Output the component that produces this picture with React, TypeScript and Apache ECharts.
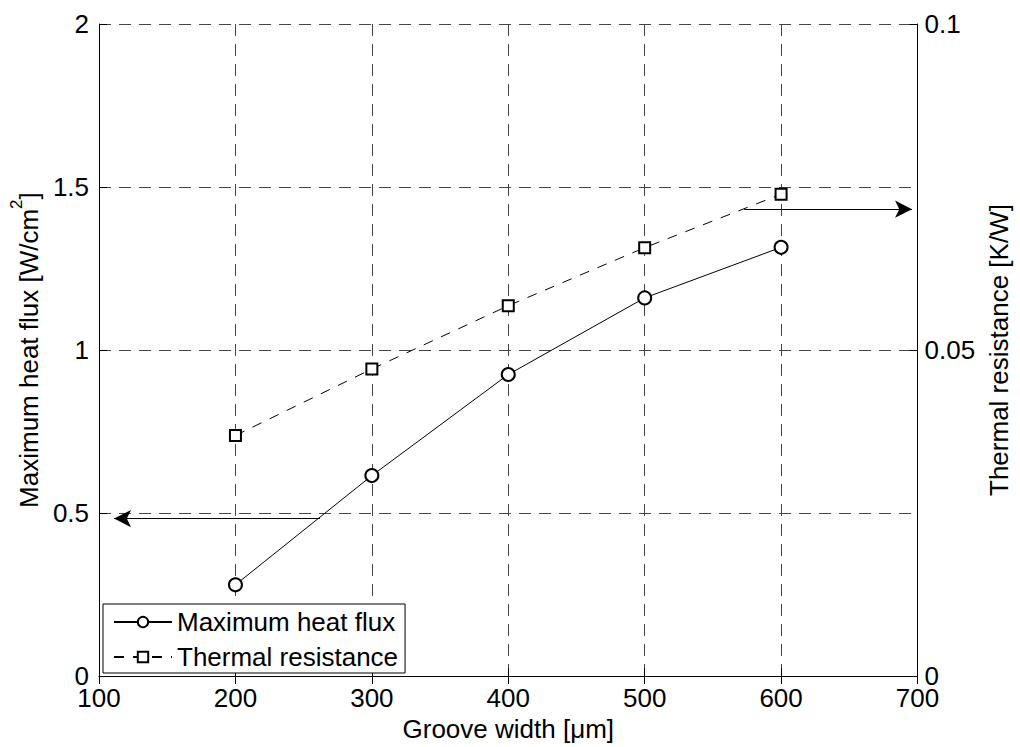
import React, { useEffect, useRef } from "react";
import * as echarts from "echarts";

const grooveWidth = [200, 300, 400, 500, 600];
const maxHeatFlux = [0.28, 0.615, 0.925, 1.16, 1.315];
const thermalResistance = [0.0369, 0.0471, 0.0568, 0.0657, 0.0739];

const leftArrow = [[262, 0.483], [111, 0.483]];
const rightArrow = [[573, 1.432], [696, 1.432]];

const FONT = "'Liberation Sans', Arial, Helvetica, sans-serif";
const FS = 26;

export default function App() {
  const ref = useRef<HTMLDivElement>(null);
  useEffect(() => {
    if (!ref.current) return;
    const chart = echarts.init(ref.current, null, { renderer: "svg" });
    const gridDash = { type: [12, 8] as any, color: "#444", width: 1 };
    chart.setOption({
      animation: false,
      backgroundColor: "#fff",
      textStyle: { fontFamily: FONT, color: "#000" },
      grid: { left: 94, right: 92, top: 24, bottom: 65, containLabel: false },
      legend: {
        orient: "vertical",
        left: 103,
        top: 604,
        padding: [5, 7, 3, 10],
        itemWidth: 58,
        itemHeight: 13,
        itemGap: 9,
        borderColor: "#000",
        borderWidth: 1,
        borderRadius: 0,
        backgroundColor: "#fff",
        textStyle: { fontSize: FS, fontFamily: FONT, color: "#000", lineHeight: 26 },
        data: ["Maximum heat flux", "Thermal resistance"],
      },
      xAxis: [
        {
          type: "value",
          min: 100,
          max: 700,
          interval: 100,
          name: "Groove width [μm]",
          nameLocation: "middle",
          nameGap: 34,
          nameTextStyle: { fontSize: FS, fontFamily: FONT, color: "#000" },
          axisLine: { lineStyle: { color: "#000", width: 1 } },
          axisTick: { inside: true, length: 8, lineStyle: { color: "#000" } },
          axisLabel: { fontSize: FS, fontFamily: FONT, color: "#000", margin: 12, lineHeight: 20 },
          splitLine: { show: true, lineStyle: gridDash },
        },
        {
          type: "value",
          position: "top",
          min: 100,
          max: 700,
          interval: 100,
          axisLine: { show: true, lineStyle: { color: "#000", width: 1 } },
          axisTick: { inside: true, length: 8, lineStyle: { color: "#000" } },
          axisLabel: { show: false },
          splitLine: { show: false },
        },
      ],
      yAxis: [
        {
          type: "value",
          min: 0,
          max: 2,
          interval: 0.5,
          name: "{b|Maximum heat flux [W/cm}{sup|2}{b|]}",
          nameLocation: "middle",
          nameGap: 50,
          nameTextStyle: {
            fontSize: FS,
            fontFamily: FONT,
            color: "#000",
            rich: {
              b: { fontSize: FS, fontFamily: FONT, color: "#000", lineHeight: 34, verticalAlign: "bottom" },
              sup: { fontSize: 17, fontFamily: FONT, color: "#000", lineHeight: 34, verticalAlign: "top" },
            },
          },
          axisLine: { show: true, lineStyle: { color: "#000", width: 1 } },
          axisTick: { show: true, inside: true, length: 8, lineStyle: { color: "#000" } },
          axisLabel: { fontSize: FS, fontFamily: FONT, color: "#000", margin: 10, lineHeight: 20 },
          splitLine: { show: true, lineStyle: gridDash },
        },
        {
          type: "value",
          min: 0,
          max: 0.1,
          interval: 0.05,
          position: "right",
          name: "Thermal resistance [K/W]",
          nameLocation: "middle",
          nameGap: 57,
          nameRotate: 90,
          nameTextStyle: { fontSize: FS, fontFamily: FONT, color: "#000" },
          axisLine: { show: true, lineStyle: { color: "#000", width: 1 } },
          axisTick: { show: true, inside: true, length: 8, lineStyle: { color: "#000" } },
          axisLabel: { fontSize: FS, fontFamily: FONT, color: "#000", margin: 7, lineHeight: 20 },
          splitLine: { show: false },
        },
      ],
      series: [
        {
          name: "Maximum heat flux",
          type: "line",
          xAxisIndex: 0,
          yAxisIndex: 0,
          data: grooveWidth.map((x, i) => [x, maxHeatFlux[i]]),
          symbol: "emptyCircle",
          symbolSize: 13,
          lineStyle: { color: "#000", width: 1, type: "solid" },
          itemStyle: { color: "#000", borderColor: "#000", borderWidth: 1 },
          markLine: {
            silent: true,
            symbol: ["none", "arrow"],
            symbolSize: [13, 17],
            label: { show: false },
            lineStyle: { color: "#000", width: 1, type: "solid" },
            itemStyle: { color: "#000" },
            data: [
              [{ coord: leftArrow[0] }, { coord: leftArrow[1] }],
              [{ coord: rightArrow[0] }, { coord: rightArrow[1] }],
            ],
          },
        },
        {
          name: "Thermal resistance",
          type: "line",
          xAxisIndex: 0,
          yAxisIndex: 1,
          data: grooveWidth.map((x, i) => [x, thermalResistance[i]]),
          symbol: "emptyRect",
          symbolSize: 11,
          lineStyle: { color: "#000", width: 1, type: [10, 9] },
          itemStyle: { color: "#000", borderColor: "#000", borderWidth: 1 },
        },
      ],
    });
    return () => chart.dispose();
  }, []);
  return (
    <div
      ref={ref}
      style={{ position: "fixed", left: 0, top: 0, width: 1020, height: 747, background: "#fff" }}
    />
  );
}
